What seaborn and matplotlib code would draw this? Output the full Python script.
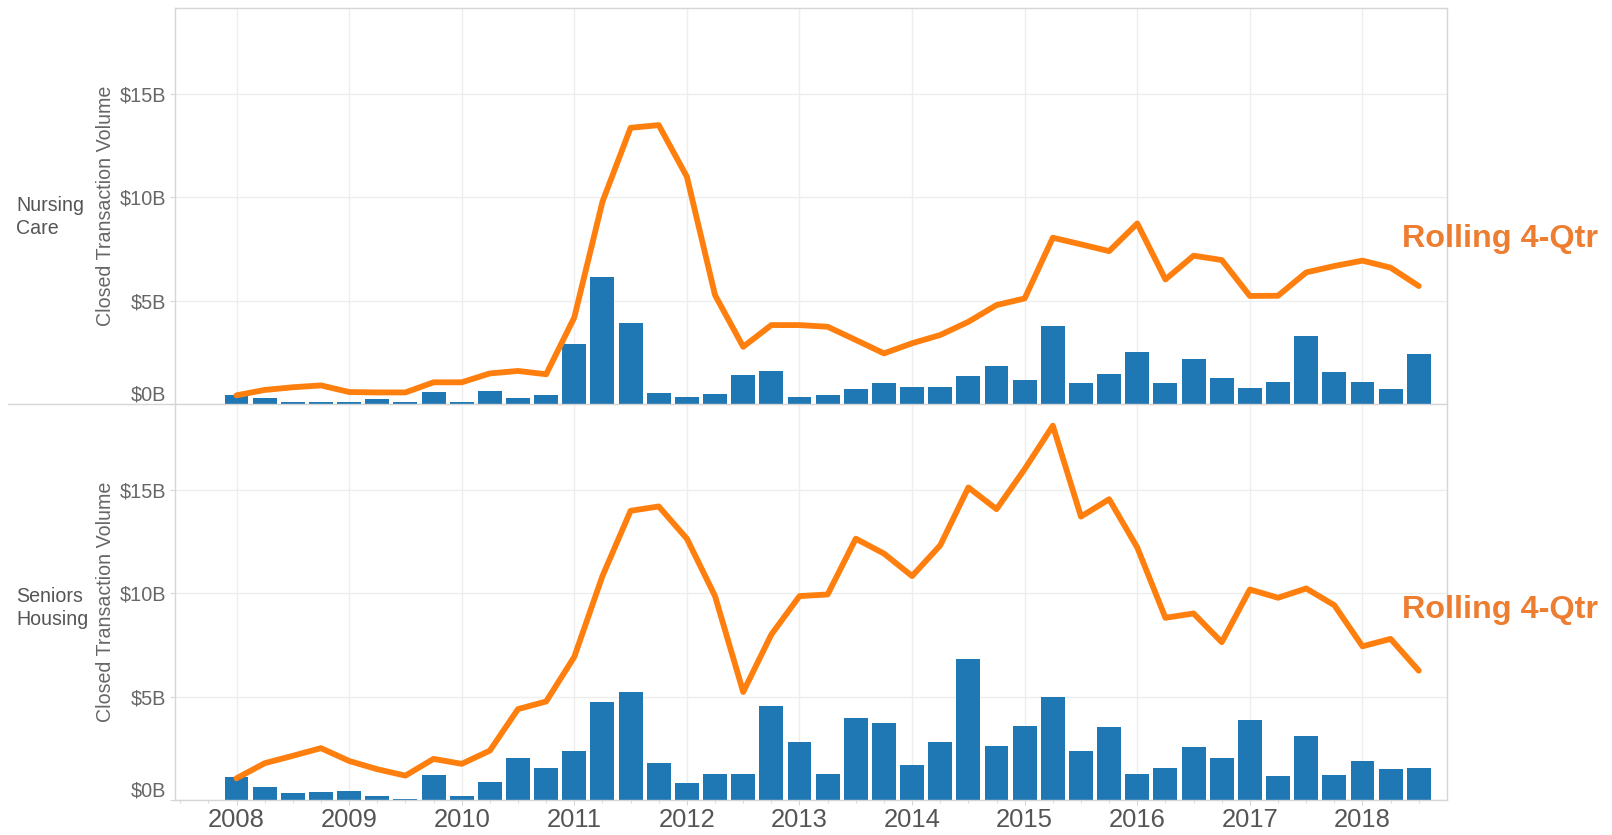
import numpy as np
import pandas as pd
import matplotlib
matplotlib.use("Agg")
import matplotlib.pyplot as plt
import matplotlib.transforms as mtransforms
from matplotlib.lines import Line2D
from matplotlib.ticker import FixedLocator, FuncFormatter
import seaborn as sns

# ---------------- data (billions USD, quarterly 2008Q1 .. 2018Q3) ----------------
years = [2008, 2009, 2010, 2011, 2012, 2013, 2014, 2015, 2016, 2017, 2018]
quarters = [f"{y}Q{q}" for y in years for q in (1, 2, 3, 4)][:43]

nursing_bars = [0.42, 0.29, 0.11, 0.11, 0.11, 0.23, 0.11, 0.58,
                0.11, 0.65, 0.29, 0.42, 2.89, 6.16, 3.94, 0.52,
                0.35, 0.47, 1.40, 1.58, 0.35, 0.42, 0.71, 1.00,
                0.84, 0.84, 1.35, 1.82, 1.18, 3.76, 1.00, 1.47,
                2.53, 1.00, 2.16, 1.24, 0.76, 1.05, 3.29, 1.53,
                1.05, 0.71, 2.40]
nursing_roll = [0.42, 0.68, 0.81, 0.90, 0.58, 0.56, 0.56, 1.05,
                1.05, 1.48, 1.60, 1.44, 4.19, 9.79, 13.37, 13.50,
                11.00, 5.27, 2.77, 3.82, 3.82, 3.74, 3.10, 2.45,
                2.94, 3.34, 3.98, 4.79, 5.11, 8.05, 7.73, 7.40,
                8.74, 6.03, 7.18, 6.97, 5.23, 5.24, 6.37, 6.68,
                6.94, 6.60, 5.71]

seniors_bars = [1.10, 0.63, 0.32, 0.40, 0.45, 0.21, 0.05, 1.21,
                0.21, 0.86, 2.05, 1.57, 2.35, 4.76, 5.23, 1.81,
                0.81, 1.26, 1.26, 4.53, 2.80, 1.26, 3.98, 3.75,
                1.68, 2.80, 6.83, 2.62, 3.58, 4.98, 2.39, 3.51,
                1.26, 1.57, 2.57, 2.05, 3.87, 1.17, 3.11, 1.21,
                1.88, 1.52, 1.57]
seniors_roll = [1.05, 1.78, 2.14, 2.51, 1.89, 1.49, 1.18, 1.99,
                1.75, 2.39, 4.40, 4.77, 6.93, 10.84, 14.00, 14.21,
                12.65, 9.87, 5.23, 8.01, 9.87, 9.95, 12.65, 11.93,
                10.84, 12.33, 15.13, 14.08, 16.02, 18.12, 13.72, 14.56,
                12.22, 8.82, 9.03, 7.64, 10.19, 9.79, 10.24, 9.43,
                7.44, 7.80, 6.26]

segments = ["Nursing\nCare", "Seniors\nHousing"]
y_ticks = [0, 5, 10, 15]
annotation = "Rolling 4-Qtr"

# ---------------- style ----------------
sns.set_theme(style="white")
plt.rcParams["font.family"] = ["Liberation Sans", "DejaVu Sans"]

BAR = "#1f77b4"
LINE = "#ff7f0e"
TXT = "#ed7d31"
SPINE = "#d6d6d6"
GRID = "#eeeeee"
LABEL = "#555555"

W, H, DPI = 1612, 835, 100
fig = plt.figure(figsize=(W / DPI, H / DPI), dpi=DPI)
fig.patch.set_facecolor("white")

left, right = 174.8 / W, 1446.7 / W
ax_top = fig.add_axes([left, 1 - 404 / H, right - left, (404 - 8) / H])
ax_bot = fig.add_axes([left, 1 - 800 / H, right - left, (800 - 404) / H], sharex=ax_top)

t = np.array([int(q[:4]) + (int(q[-1]) - 1) * 0.25 for q in quarters])
frames = [
    pd.DataFrame({"t": t, "bars": nursing_bars, "roll": nursing_roll}),
    pd.DataFrame({"t": t, "bars": seniors_bars, "roll": seniors_roll}),
]

for ax, df, seg, lab_y, txt_y in zip(
    (ax_top, ax_bot), frames, segments, (217, 608), (247, 618)
):
    sns.barplot(data=df, x="t", y="bars", native_scale=True, width=0.85,
                color=BAR, saturation=1, linewidth=0, ax=ax, zorder=2)
    sns.lineplot(data=df, x="t", y="roll", color=LINE, linewidth=4.2,
                 ax=ax, zorder=3, solid_joinstyle="round", solid_capstyle="round")

    ax.set_xlim(2007.452, 2018.748)
    ax.set_ylim(0, 19.17)
    ax.yaxis.set_major_locator(FixedLocator(y_ticks))
    ax.yaxis.set_major_formatter(FuncFormatter(lambda v, p: f"${v:.0f}B"))
    ax.xaxis.set_major_locator(FixedLocator(years))
    ax.xaxis.set_minor_locator(FixedLocator(np.arange(2007.5, 2018.75, 0.25)))

    ax.grid(True, axis="both", which="major", color=GRID, linewidth=1.0, zorder=0)
    ax.set_axisbelow(True)
    for s in ax.spines.values():
        s.set_color(SPINE)
        s.set_linewidth(1.0)

    ax.tick_params(axis="y", which="major", length=3.5, width=0.8, color=SPINE,
                   labelsize=14.3, labelcolor="#666666", pad=3, left=True)
    ax.set_ylabel("Closed Transaction Volume", fontsize=14.1, color="#666666")
    ax.yaxis.set_label_coords(-0.0545, 0.5)
    ax.yaxis.label.set_va("center")
    ax.set_xlabel("")

    # $0B label sits slightly above the baseline
    lab0 = ax.yaxis.get_major_ticks()[0].label1
    lab0.set_transform(lab0.get_transform()
                       + mtransforms.ScaledTranslation(0, 11 / DPI, fig.dpi_scale_trans))

    fig.text(16 / W, 1 - lab_y / H, seg, ha="left", va="center",
             fontsize=14.1, color=LABEL, linespacing=1.22)
    fig.text(1401.7 / W, 1 - txt_y / H, annotation, ha="left", va="baseline",
             fontsize=23.3, fontweight="bold", color=TXT)

# top panel: no x tick labels, bottom spine replaced by full-width divider
ax_top.tick_params(axis="x", which="both", bottom=False, labelbottom=False)
ax_top.spines["bottom"].set_visible(False)
ax_bot.spines["top"].set_visible(False)
fig.add_artist(Line2D([8 / W, right], [1 - 404 / H, 1 - 404 / H],
                      transform=fig.transFigure, color=SPINE, linewidth=1.0))

ax_bot.set_xticks(years)
ax_bot.set_xticklabels([str(y) for y in years])
ax_bot.tick_params(axis="x", which="major", length=3.5, width=0.8, color=SPINE,
                   labelsize=18.4, labelcolor=LABEL, pad=2.3, bottom=True)
ax_bot.tick_params(axis="x", which="minor", length=2, width=0.6, color=SPINE, bottom=True)

fig.savefig("out.png", dpi=DPI, facecolor="white")
